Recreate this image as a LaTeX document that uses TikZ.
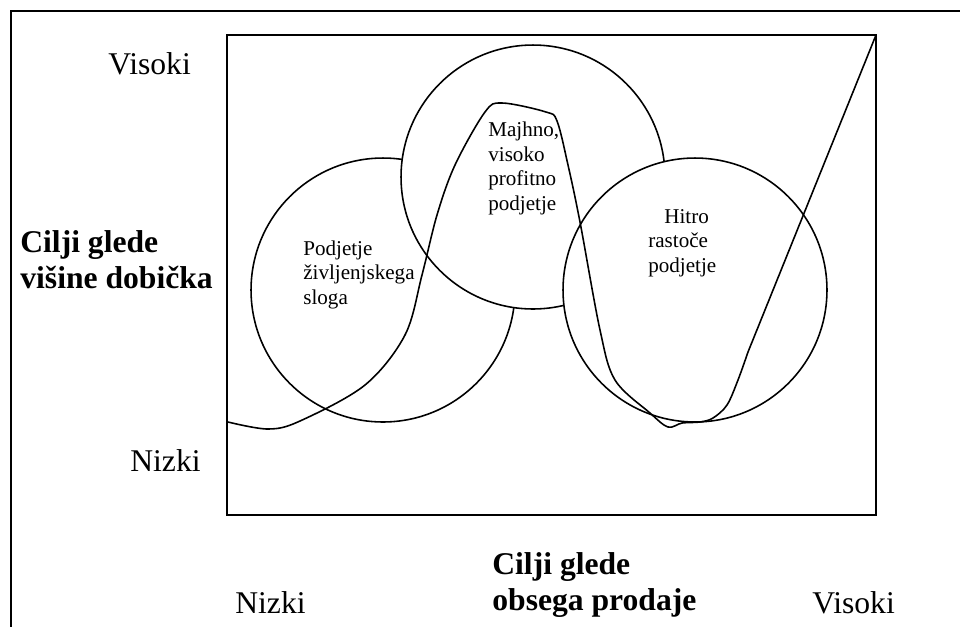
\documentclass[tikz,border=0pt]{standalone}
\usepackage{fontspec}
\setmainfont{Liberation Serif}
\usepackage{tikz}
\usetikzlibrary{positioning}

\begin{document}
\begin{tikzpicture}[
  x=0.02cm, y=-0.02cm,
  frame/.style={line width=1pt},
  bubble/.style={
    circle, draw, fill=white, line width=0.9pt,
    minimum size=5.28cm, inner sep=0pt
  },
  axis/.style={font=\fontsize{18}{20}\selectfont, inner sep=0pt, align=left},
  title/.style={font=\fontsize{18}{20}\selectfont\bfseries, inner sep=0pt, align=left},
  small/.style={font=\fontsize{12}{13.9}\selectfont, inner sep=0pt, align=left},
  curve/.style={line width=0.9pt, line join=round}
]
\useasboundingbox (0,0) rectangle (960,627);

% Outer frame and plot area
\draw[frame] (960,11) -- (11,11) -- (11,627);
\draw[frame] (227,35) rectangle (876,515);
\coordinate (corner) at (876,35);

% Company types
\node[bubble] (life) at (383,290) {};
\node[bubble] (niche) at (533,177) {};
\node[bubble] (growth) at (695,290) {};

% Path through the three types
\draw[curve] plot[smooth, tension=0.55] coordinates {
  (228,422) (268,429) (300,421) (365,385) (405,335) (422,275)
  (437,215) (455,165) (485,112) (502,103) (546,112) (557,121) (568,165)
  (580,222) (600,330) (615,380) (650,413) (668,427) (682,423)
  (700,422) (713,418) (727,405) (738,380) (748,352)}
  -- (corner);

% Labels inside the circles (base = last line)
\node[small, anchor=base west] (lifetxt) at (303,304) {Podjetje\\življenjskega\\sloga};
\node[small, anchor=base west] (nichetxt) at (488,210) {Majhno,\\visoko\\profitno\\podjetje};
\node[small, anchor=base west] (growthtxt) at (648,272) {\hspace*{0.32cm}Hitro\\rastoče\\podjetje};

% Vertical axis
\node[axis, anchor=base west] (yhigh) at (108,74) {Visoki};
\node[title, anchor=base west] (ytitle) at (20,288) {Cilji glede\\višine dobička};
\node[axis, anchor=base west] (ylow) at (130,471) {Nizki};

% Horizontal axis
\node[axis, anchor=base west] (xlow) at (235,613) {Nizki};
\node[title, anchor=base west] (xtitle) at (492,610) {Cilji glede\\obsega prodaje};
\node[axis, anchor=base west] (xhigh) at (812,613) {Visoki};

\end{tikzpicture}
\end{document}
